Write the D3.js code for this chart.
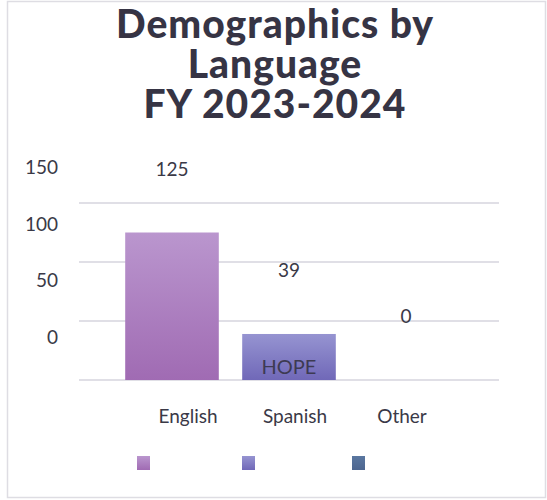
<!DOCTYPE html>
<html>
<head>
<meta charset="utf-8">
<script src="https://cdn.jsdelivr.net/npm/d3@7"></script>
<style>
  html, body { margin: 0; padding: 0; background: #ffffff; }
  svg { display: block; }
  text { font-family: Lato, "Open Sans", sans-serif; }
</style>
</head>
<body>
<script>
// Chart data
const categories = ["English", "Spanish", "Other"];
const values = [125, 39, 0];
const tickValues = [0, 50, 100, 150];
const titleLines = ["Demographics by", "Language", "FY 2023-2024"];
const barLabel = ["", "HOPE", ""];

const W = 547, H = 500;
const colors = [
  ["#ba96ce", "#a06bb3"],
  ["#9694d1", "#7068b8"],
  ["#5a77a0", "#4d6690"]
];

const svg = d3.select("body").append("svg")
  .attr("width", W).attr("height", H);

const defs = svg.append("defs");
colors.forEach((c, i) => {
  const g = defs.append("linearGradient")
    .attr("id", "grad" + i)
    .attr("x1", 0).attr("y1", 0).attr("x2", 0).attr("y2", 1);
  g.append("stop").attr("offset", "0%").attr("stop-color", c[0]);
  g.append("stop").attr("offset", "100%").attr("stop-color", c[1]);
});

// outer frame
svg.append("rect")
  .attr("x", 7.5).attr("y", 1.5).attr("width", 538).attr("height", 496)
  .attr("fill", "#ffffff").attr("stroke", "#dedde3").attr("stroke-width", 1.5);

// title, one text per line
svg.append("g").selectAll("text").data(titleLines).join("text")
  .attr("x", 275).attr("y", (d, i) => 38 + i * 40)
  .attr("text-anchor", "middle")
  .attr("fill", "#363444")
  .attr("font-weight", 900)
  .attr("font-size", 39)
  .attr("letter-spacing", 1)
  .text(d => d);

// scales
const y = d3.scaleLinear().domain([0, 150]).range([380, 203]);
const yLabel = d3.scaleLinear().domain([0, 150]).range([344, 174]);
const x = d3.scaleBand().domain(categories).range([113.5, 464.5])
  .paddingInner(0.2).paddingOuter(0.1);
const xLabel = d3.scalePoint().domain(categories).range([188, 402]);

// gridlines
svg.append("g").selectAll("line").data(tickValues).join("line")
  .attr("x1", 79).attr("x2", 499)
  .attr("y1", d => y(d)).attr("y2", d => y(d))
  .attr("stroke", "#e0dfe6").attr("stroke-width", 2);

// y tick labels
svg.append("g").selectAll("text").data(tickValues).join("text")
  .attr("x", 58).attr("y", d => yLabel(d))
  .attr("text-anchor", "end")
  .attr("font-size", 19).attr("fill", "#3a3947")
  .text(d => d);

// bars
svg.append("g").selectAll("rect").data(values).join("rect")
  .attr("x", (d, i) => x(categories[i]))
  .attr("width", x.bandwidth())
  .attr("y", d => y(d))
  .attr("height", d => y(0) - y(d))
  .attr("fill", (d, i) => `url(#grad${i})`);

// value labels
svg.append("g").selectAll("text").data(values).join("text")
  .attr("x", (d, i) => x(categories[i]) + x.bandwidth() / 2)
  .attr("y", d => y(d) - 57)
  .attr("text-anchor", "middle")
  .attr("font-size", 19).attr("fill", "#3a3947")
  .text(d => d);

// text inside bars
svg.append("g").selectAll("text").data(barLabel).join("text")
  .attr("x", (d, i) => x(categories[i]) + x.bandwidth() / 2)
  .attr("y", 374)
  .attr("text-anchor", "middle")
  .attr("font-size", 20).attr("fill", "#3d3a52")
  .text(d => d);

// category labels
svg.append("g").selectAll("text").data(categories).join("text")
  .attr("x", d => xLabel(d)).attr("y", 423)
  .attr("text-anchor", "middle")
  .attr("font-size", 19).attr("fill", "#3a3947")
  .text(d => d);

// legend swatches
const legendX = d3.scaleOrdinal().domain(categories).range([137, 242, 352]);
svg.append("g").selectAll("rect").data(categories).join("rect")
  .attr("x", d => legendX(d)).attr("y", 456)
  .attr("width", 13).attr("height", 14)
  .attr("fill", (d, i) => `url(#grad${i})`);
</script>
</body>
</html>
